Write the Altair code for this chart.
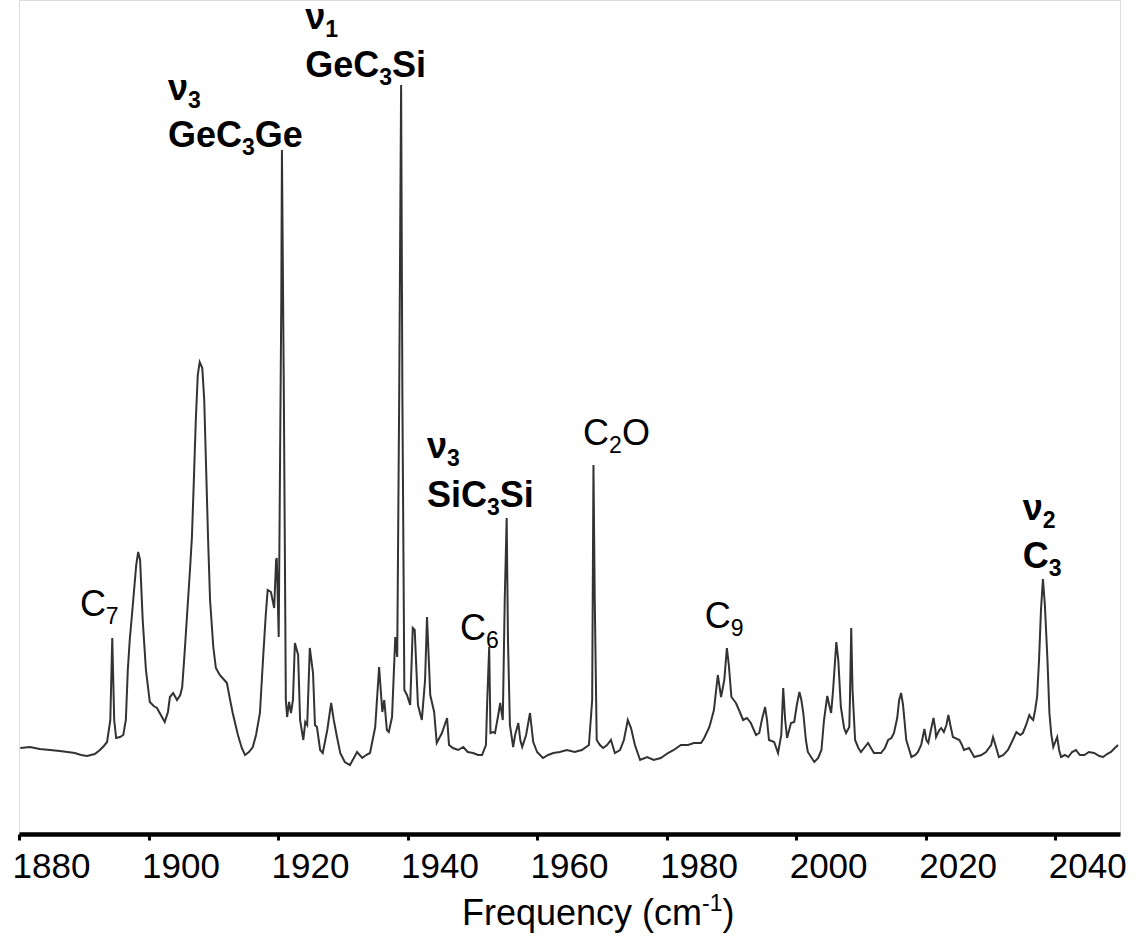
import altair as alt
import pandas as pd

# ---------------- spectrum (frequency in cm-1, absorbance a.u.) ----------------
freq = [
    1880.2, 1881.7, 1883.2, 1884.8, 1886.3, 1887.5, 1888.6, 1889.6, 1890.5, 1891.7,
    1892.5, 1893.1, 1893.6, 1894.1,
    1894.4, 1894.7, 1895.0, 1895.6, 1896.1, 1896.5, 1896.8, 1897.1, 1897.6, 1898.1,
    1898.4, 1898.7, 1899.1, 1899.6, 1900.2, 1900.8, 1901.3, 1901.9, 1902.5, 1903.0,
    1903.3, 1903.8, 1904.4, 1904.9, 1905.2, 1905.6, 1905.9, 1906.4, 1906.7, 1907.0,
    1907.3, 1907.6, 1907.9, 1908.3, 1908.6, 1908.9, 1909.2, 1909.5, 1910.0, 1910.4,
    1911.0, 1911.7, 1912.1, 1912.6, 1913.0, 1913.8, 1914.4, 1914.9, 1915.5, 1916.1,
    1916.6, 1917.2, 1917.7, 1918.1, 1918.4, 1918.9, 1919.4, 1919.7, 1919.8, 1920.1,
    1920.5, 1920.6, 1920.9, 1921.2, 1921.4, 1921.7, 1922.0, 1922.3, 1922.6, 1923.1,
    1923.4, 1923.9, 1924.2, 1924.5, 1924.9, 1925.4, 1925.7, 1926.0, 1926.5, 1926.9,
    1927.6, 1928.2, 1928.6, 1929.1, 1929.6, 1930.3, 1931.1, 1931.7, 1932.2, 1933.0,
    1933.6, 1934.2, 1935.0, 1935.6, 1936.1, 1936.4, 1936.8, 1937.1, 1937.6, 1938.1,
    1938.4, 1938.7, 1939.0, 1939.2, 1939.5, 1939.9, 1940.4, 1940.8, 1941.1, 1941.6,
    1942.2, 1942.7, 1943.0, 1943.5, 1944.1, 1944.5, 1945.3, 1946.1, 1946.4, 1947.0,
    1947.8, 1948.6, 1949.3, 1950.1, 1950.9, 1951.5, 1952.1, 1952.3, 1952.6, 1952.8,
    1953.2, 1953.5, 1954.0, 1954.3, 1954.7, 1955.0, 1955.3, 1955.5, 1955.8, 1956.3,
    1956.6, 1957.1, 1957.4, 1957.7, 1958.3, 1958.9, 1959.4, 1960.0, 1960.9, 1961.7,
    1962.5, 1963.5, 1964.6, 1965.8, 1966.9, 1968.0, 1968.5, 1968.7, 1968.9, 1969.2,
    1969.7, 1970.2, 1970.8, 1971.4, 1972.0, 1972.8, 1973.4, 1974.0, 1974.5, 1975.1,
    1975.9, 1977.0, 1978.0, 1979.1, 1980.2, 1981.1, 1982.2, 1983.3, 1984.2, 1985.3,
    1985.8, 1986.6, 1987.3, 1987.9, 1988.4, 1988.9, 1989.3, 1989.6, 1990.0, 1990.7,
    1991.3, 1991.8, 1992.4, 1993.0, 1993.8, 1994.3, 1994.7, 1995.2, 1995.5, 1995.8,
    1996.6, 1997.2, 1997.7, 1998.0, 1998.3, 1998.6, 1999.2, 1999.7, 2000.1, 2000.5,
    2000.8, 2001.1, 2001.5, 2001.8, 2002.8, 2003.4, 2003.9, 2004.3, 2004.8, 2005.1,
    2005.4, 2005.7, 2006.2, 2006.5, 2006.9, 2007.4, 2007.7, 2008.2, 2008.3, 2008.5,
    2008.7, 2009.1, 2009.6, 2010.0, 2011.1, 2012.0, 2013.1, 2013.7, 2014.2, 2014.7,
    2015.1, 2015.6, 2015.9, 2016.2, 2016.5, 2017.0, 2017.8, 2018.4, 2018.8, 2019.3,
    2019.8, 2020.1, 2020.4, 2020.8, 2021.2, 2021.5, 2021.6, 2022.1, 2022.4, 2022.8,
    2023.2, 2023.5, 2023.8, 2024.2, 2025.2, 2025.6, 2025.9, 2026.7, 2027.5, 2028.6,
    2029.3, 2030.1, 2030.4, 2030.9, 2031.3, 2032.0, 2032.7, 2033.3, 2034.0, 2034.6,
    2035.0, 2035.5, 2036.0, 2036.3, 2036.6, 2036.9, 2037.2, 2037.5, 2037.8, 2038.1,
    2038.4, 2038.8, 2039.1, 2039.4, 2039.7, 2040.0, 2040.3, 2040.6, 2040.9, 2041.5,
    2042.0, 2042.6, 2043.2, 2043.8, 2044.5, 2045.2, 2046.0, 2046.8, 2047.4, 2048.0,
    2048.6, 2049.2, 2049.7,
]
absorb = [
    0.002, 0.003, 0.001, 0.000, -0.001, -0.002, -0.003, -0.005, -0.006, -0.004,
    0.000, 0.004, 0.008, 0.030,
    0.112, 0.030, 0.012, 0.013, 0.015, 0.030, 0.080, 0.110, 0.147, 0.185,
    0.198, 0.190, 0.130, 0.080, 0.048, 0.044, 0.042, 0.035, 0.028, 0.038,
    0.053, 0.057, 0.050, 0.055, 0.063, 0.100, 0.130, 0.180, 0.213, 0.270,
    0.330, 0.375, 0.388, 0.382, 0.350, 0.280, 0.210, 0.150, 0.103, 0.082,
    0.075, 0.070, 0.067, 0.050, 0.037, 0.015, 0.002, -0.005, -0.002, 0.003,
    0.015, 0.037, 0.093, 0.135, 0.160, 0.158, 0.142, 0.190, 0.192, 0.113,
    0.450, 0.600, 0.350, 0.050, 0.033, 0.048, 0.037, 0.050, 0.107, 0.095,
    0.030, 0.010, 0.028, 0.025, 0.102, 0.077, 0.025, 0.023, 0.000, -0.003,
    0.020, 0.047, 0.030, 0.013, -0.003, -0.012, -0.015, -0.008, -0.002, -0.008,
    -0.005, -0.003, 0.023, 0.083, 0.038, 0.050, 0.020, 0.018, 0.033, 0.113,
    0.093, 0.350, 0.665, 0.350, 0.060, 0.055, 0.045, 0.122, 0.120, 0.045,
    0.030, 0.070, 0.133, 0.055, 0.038, 0.007, 0.017, 0.032, 0.005, 0.002,
    0.000, 0.003, -0.002, -0.003, -0.005, -0.005, 0.005, 0.050, 0.103, 0.017,
    0.018, 0.017, 0.035, 0.047, 0.030, 0.150, 0.232, 0.110, 0.025, 0.003,
    0.015, 0.027, 0.010, 0.003, 0.015, 0.037, 0.008, -0.002, -0.008, -0.005,
    -0.003, -0.002, 0.000, -0.002, 0.000, 0.005, 0.050, 0.285, 0.150, 0.010,
    0.005, 0.002, 0.005, 0.010, -0.003, 0.000, 0.010, 0.030, 0.022, 0.005,
    -0.010, -0.007, -0.010, -0.008, -0.003, 0.000, 0.005, 0.005, 0.007, 0.007,
    0.012, 0.023, 0.040, 0.075, 0.053, 0.070, 0.102, 0.085, 0.053, 0.047,
    0.038, 0.030, 0.032, 0.027, 0.015, 0.017, 0.030, 0.043, 0.030, 0.010,
    0.008, -0.003, 0.015, 0.062, 0.030, 0.012, 0.027, 0.028, 0.045, 0.058,
    0.050, 0.037, 0.010, -0.002, -0.012, -0.008, 0.000, 0.030, 0.054, 0.045,
    0.037, 0.060, 0.108, 0.090, 0.043, 0.022, 0.017, 0.023, 0.050, 0.122,
    0.060, 0.010, 0.002, -0.002, 0.007, -0.003, -0.003, 0.002, 0.010, 0.012,
    0.017, 0.032, 0.050, 0.057, 0.045, 0.010, -0.007, -0.005, -0.002, 0.005,
    0.021, 0.010, 0.007, 0.020, 0.032, 0.020, 0.013, 0.020, 0.022, 0.018,
    0.025, 0.035, 0.025, 0.013, 0.010, 0.005, 0.000, 0.002, -0.007, -0.005,
    -0.002, 0.005, 0.013, 0.002, -0.007, -0.005, 0.000, 0.008, 0.018, 0.015,
    0.017, 0.025, 0.035, 0.032, 0.030, 0.040, 0.053, 0.090, 0.140, 0.171,
    0.145, 0.090, 0.037, 0.015, 0.003, 0.008, 0.013, 0.000, -0.007, -0.005,
    -0.007, -0.002, 0.000, -0.005, -0.005, -0.002, -0.003, -0.006, -0.007, -0.004,
    -0.002, 0.002, 0.005,
]

tick_values = [1880, 1900, 1920, 1940, 1960, 1980, 2000, 2020, 2040]

# annotation anchors (left edge frequency, baseline absorbance), bold flag, segments
# segment roles: "n" normal, "b" subscript, "p" superscript
annotations = [
    (1889.4, 0.134, False, [("C", "n"), ("7", "b")]),
    (1903.0, 0.650, True, [("ν", "n"), ("3", "b")]),
    (1903.0, 0.603, True, [("GeC", "n"), ("3", "b"), ("Ge", "n")]),
    (1924.2, 0.721, True, [("ν", "n"), ("1", "b")]),
    (1924.2, 0.673, True, [("GeC", "n"), ("3", "b"), ("Si", "n")]),
    (1943.0, 0.292, True, [("ν", "n"), ("3", "b")]),
    (1943.0, 0.243, True, [("SiC", "n"), ("3", "b"), ("Si", "n")]),
    (1948.1, 0.110, False, [("C", "n"), ("6", "b")]),
    (1967.1, 0.305, False, [("C", "n"), ("2", "b"), ("O", "n")]),
    (1985.9, 0.122, False, [("C", "n"), ("9", "b")]),
    (2035.0, 0.230, True, [("ν", "n"), ("2", "b")]),
    (2035.0, 0.182, True, [("C", "n"), ("3", "b")]),
    (1948.4, -0.175, False, [("Frequency (cm", "n"), ("-1", "p"), (")", "n")]),
]

# ---------------- layout ----------------
X_MIN, X_MAX = 1880, 2050
Y_MIN, Y_MAX = -0.084, 0.75
W, H = 1101, 834
PXU = W / (X_MAX - X_MIN)
PYU = H / (Y_MAX - Y_MIN)
FONT = "Liberation Sans"
MAIN, SMALL = 36, 23
SUB_DROP, SUP_RISE = 8, 14

ADV_REG = {"C": .722, "O": .778, "F": .611, "r": .333, "e": .556, "q": .556,
           "u": .556, "n": .556, "c": .5, "y": .5, " ": .278, "(": .333,
           ")": .333, "m": .833, "-": .333}
ADV_BOLD = {"G": .778, "e": .556, "C": .722, "S": .667, "i": .278, "ν": .556}


def text_width(s, size, bold):
    table = ADV_BOLD if bold else ADV_REG
    return sum(table.get(ch, .556) for ch in s) * size


rows = []
for fx, fy, bold, segs in annotations:
    cur = 0.0
    for txt, role in segs:
        size = MAIN if role == "n" else SMALL
        shift = 0 if role == "n" else (SUB_DROP if role == "b" else -SUP_RISE)
        rows.append({"x": fx + cur / PXU, "y": fy - shift / PYU, "t": txt,
                     "s": size, "bold": bold})
        cur += text_width(txt, size, bold)
lab = pd.DataFrame(rows)
spec = pd.DataFrame({"freq": freq, "absorb": absorb})

xscale = alt.Scale(domain=[X_MIN, X_MAX], nice=False, zero=False)
yscale = alt.Scale(domain=[Y_MIN, Y_MAX], nice=False, zero=False)

line = alt.Chart(spec).mark_line(color="#333333", strokeWidth=2).encode(
    x=alt.X("freq:Q", scale=xscale, axis=alt.Axis(
        values=tick_values, format="d", title=None, grid=False,
        labelFont=FONT, labelFontSize=35, labelColor="black",
        labelAlign="left", labelBaseline="alphabetic", labelOffset=-7,
        labelPadding=37, labelFlush=False, labelOverlap=False, labelBound=False,
        tickSize=6, tickWidth=3, tickColor="black",
        domainWidth=4.5, domainColor="black")),
    y=alt.Y("absorb:Q", scale=yscale, axis=None),
)

def text_layer(bold):
    return alt.Chart(lab[lab["bold"] == bold]).mark_text(
        font=FONT, fontWeight="bold" if bold else "normal", color="black",
        align="left", baseline="alphabetic"
    ).encode(
        x=alt.X("x:Q", scale=xscale),
        y=alt.Y("y:Q", scale=yscale),
        text="t:N",
        size=alt.Size("s:Q", scale=None, legend=None),
    )

chart = alt.layer(line, text_layer(False), text_layer(True)).properties(
    width=W, height=H,
    padding={"left": 19, "top": 0, "right": 16, "bottom": 112},
    autosize=alt.AutoSizeParams(type="none"),
).configure_view(stroke=None).configure(background="white")

chart.save("out.html", embed_options={"renderer": "svg", "actions": False})
